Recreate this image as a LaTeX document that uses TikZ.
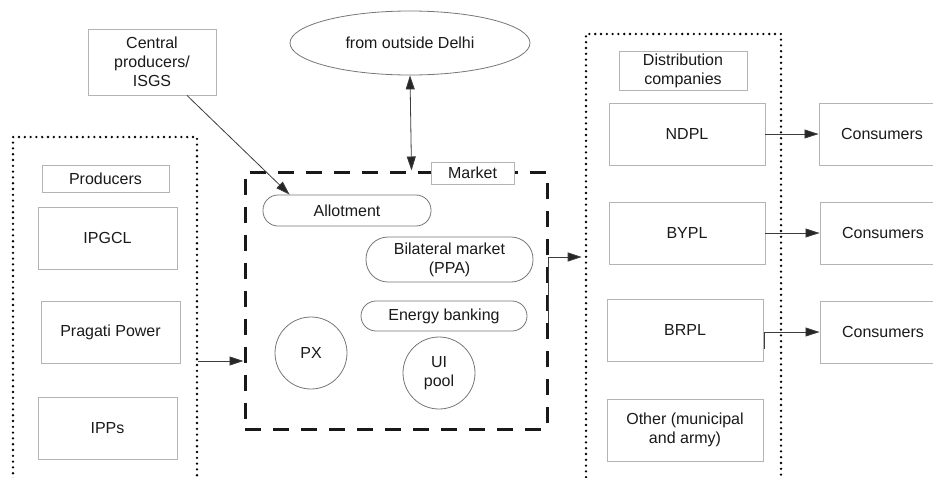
\documentclass[tikz,border=0pt]{standalone}
\usepackage{fontspec}
\setmainfont{Liberation Sans}
\usetikzlibrary{shapes.geometric,arrows.meta,calc}
\definecolor{boxgray}{HTML}{B4B4B4}
\definecolor{txt}{HTML}{1A1A1A}
\definecolor{conn}{HTML}{3C3C3C}
\tikzset{
  every node/.style={font=\fontsize{16}{19}\selectfont, text=txt, align=center, inner sep=0pt},
  box/.style={draw=boxgray, line width=0.9pt, fill=white, rectangle},
  pill/.style={draw=conn!70, line width=0.8pt, fill=white, rectangle, rounded corners=#1},
  ring/.style={draw=conn!70, line width=0.8pt, circle, minimum size=72pt},
  grp/.style={draw=black, line width=2.6pt, line cap=round, dash pattern=on 0pt off 5.8pt, rectangle},
  mkt/.style={draw=black!90, line width=3pt, dash pattern=on 16pt off 12pt, rectangle},
  arr/.style={draw=conn, line width=0.8pt, -{Triangle[length=14pt,width=9pt,fill=black!85]}},
  darr/.style={draw=conn, line width=0.8pt, {Triangle[length=14pt,width=9pt,fill=black!85]}-{Triangle[length=14pt,width=9pt,fill=black!85]}},
}
\begin{document}
\begin{tikzpicture}[x=1pt,y=-1pt]
\useasboundingbox (0,0) rectangle (933,477);
\clip (0,0) rectangle (933,477);
% groups
\node[grp, minimum width=184pt, minimum height=363pt] (prodgrp) at (105,318.5) {};
\node[grp, minimum width=195pt, minimum height=466pt] (distgrp) at (683.5,267) {};
\node[mkt, minimum width=302pt, minimum height=257pt] (market) at (396,300.5) {};
% top
\node[box, minimum width=128pt, minimum height=66pt] (central) at (152,62) {Central\\producers/\\ISGS};
\node[ellipse, draw=conn!70, line width=0.8pt, minimum width=240pt, minimum height=64pt] (outside) at (410,43) {from outside Delhi};
% market contents
\node[box, minimum width=83pt, minimum height=22pt] (mlabel) at (472.5,173) {Market};
\node[pill=15pt, minimum width=168pt, minimum height=31pt] (allot) at (347,210.5) {Allotment};
\node[pill=22pt, minimum width=167pt, minimum height=45pt] (bilat) at (449.5,259.5) {Bilateral market\\(PPA)};
\node[pill=15pt, minimum width=166pt, minimum height=30pt] (bank) at (444,316) {Energy banking};
\node[ring] (px) at (311,353) {PX};
\node[ring] (ui) at (439,373) {UI\\pool};
% producers
\node[box, minimum width=127pt, minimum height=27pt] (prodlabel) at (105.5,178.5) {Producers};
\node[box, minimum width=139pt, minimum height=62pt] (ipgcl) at (107.5,238) {IPGCL};
\node[box, minimum width=139pt, minimum height=62pt] (pragati) at (110.5,332) {Pragati Power};
\node[box, minimum width=139pt, minimum height=62pt] (ipps) at (107.5,428) {IPPs};
% distribution
\node[box, minimum width=128pt, minimum height=39pt] (distlabel) at (683,70.5) {Distribution\\companies};
\node[box, minimum width=156pt, minimum height=62pt] (ndpl) at (687,134) {NDPL};
\node[box, minimum width=156pt, minimum height=62pt] (bypl) at (687,233) {BYPL};
\node[box, minimum width=156pt, minimum height=62pt] (brpl) at (685,330) {BRPL};
\node[box, minimum width=156pt, minimum height=62pt] (other) at (685,430) {Other (municipal\\and army)};
% consumers
\node[box, minimum width=126pt, minimum height=62pt] (cons1) at (882,134) {Consumers};
\node[box, minimum width=126pt, minimum height=62pt] (cons2) at (883,233) {Consumers};
\node[box, minimum width=126pt, minimum height=62pt] (cons3) at (883,332) {Consumers};
% connectors
\draw[arr] ($(central.south)+(35,0)$) -- ($(allot.north west)+(27,0)$);
\draw[darr] (outside.south) -- ($(market.north west)+(168,0)$);
\draw[arr] ($(prodgrp.east)+(0,42.5)$) -- ($(market.west)+(0,60.5)$);
\draw[arr] ($(market.east)+(0,22)$) |- ($(distgrp.west)+(-3,-10)$);
\draw[arr] (ndpl.east) -- (cons1.west);
\draw[arr] (bypl.east) -- (cons2.west);
\draw[arr] ($(brpl.east)+(1,19)$) |- (cons3.west);
\end{tikzpicture}
\end{document}
